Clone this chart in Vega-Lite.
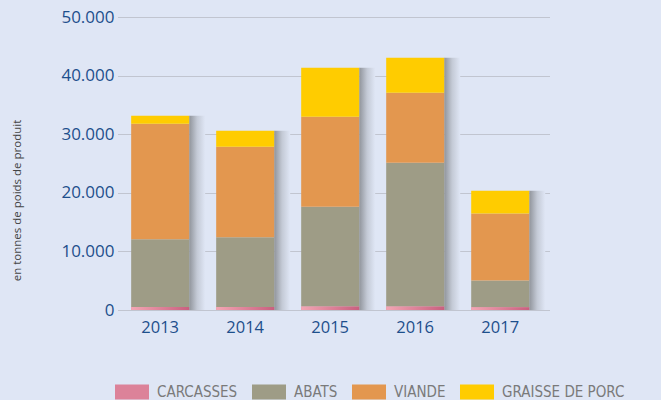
{
  "$schema": "https://vega.github.io/schema/vega-lite/v6.json",
  "width": 431,
  "height": 293,
  "autosize": {"type": "none"},
  "padding": {"left": 118, "top": 17, "right": 112, "bottom": 90},
  "background": "#dfe6f5",
  "data": {
    "values": [
      {"year": "2013", "category": "CARCASSES", "value": 500},
      {"year": "2013", "category": "ABATS", "value": 11570},
      {"year": "2013", "category": "VIANDE", "value": 19720},
      {"year": "2013", "category": "GRAISSE DE PORC", "value": 1360},
      {"year": "2014", "category": "CARCASSES", "value": 500},
      {"year": "2014", "category": "ABATS", "value": 11900},
      {"year": "2014", "category": "VIANDE", "value": 15460},
      {"year": "2014", "category": "GRAISSE DE PORC", "value": 2730},
      {"year": "2015", "category": "CARCASSES", "value": 600},
      {"year": "2015", "category": "ABATS", "value": 17040},
      {"year": "2015", "category": "VIANDE", "value": 15340},
      {"year": "2015", "category": "GRAISSE DE PORC", "value": 8360},
      {"year": "2016", "category": "CARCASSES", "value": 600},
      {"year": "2016", "category": "ABATS", "value": 24540},
      {"year": "2016", "category": "VIANDE", "value": 11940},
      {"year": "2016", "category": "GRAISSE DE PORC", "value": 5960},
      {"year": "2017", "category": "CARCASSES", "value": 450},
      {"year": "2017", "category": "ABATS", "value": 4580},
      {"year": "2017", "category": "VIANDE", "value": 11420},
      {"year": "2017", "category": "GRAISSE DE PORC", "value": 3920}
    ]
  },
  "encoding": {
    "x": {
      "field": "year",
      "type": "nominal",
      "scale": {"paddingInner": 0.32, "paddingOuter": 0.195, "align": 0.4},
      "axis": {
        "title": null,
        "domain": false,
        "ticks": false,
        "labelAngle": 0,
        "labelFont": "Open Sans",
        "labelFontSize": 16.5,
        "labelColor": "#1d4f8c",
        "labelPadding": 9,
        "labelDx": 5
      }
    }
  },
  "resolve": {"axis": {"y": "independent"}},
  "layer": [
    {
      "mark": {
        "type": "bar",
        "width": 16,
        "xOffset": 37,
        "fill": {
          "gradient": "linear",
          "x1": 0, "y1": 0, "x2": 1, "y2": 0,
          "stops": [
            {"offset": 0, "color": "#90949b"},
            {"offset": 0.5, "color": "#c4cad6"},
            {"offset": 1, "color": "#dfe6f5"}
          ]
        }
      },
      "encoding": {
        "y": {"aggregate": "sum", "field": "value", "type": "quantitative", "scale": {"domain": [0, 50000]}, "axis": null}
      }
    },
    {
      "transform": [
        {"calculate": "indexof(['CARCASSES','ABATS','VIANDE','GRAISSE DE PORC'], datum.category)", "as": "ord"}
      ],
      "mark": {"type": "bar", "width": 58},
      "encoding": {
        "y": {
          "field": "value",
          "type": "quantitative",
          "stack": "zero",
          "scale": {"domain": [0, 50000]},
          "axis": {
            "title": "en tonnes de poids de produit",
            "titleFont": "Open Sans",
            "titleFontSize": 11.5,
            "titleFontWeight": "normal",
            "titleColor": "#444444",
            "titleX": -101,
            "titleY": 183,
            "titleAlign": "center",
            "titleBaseline": "middle",
            "titleAngle": -90,
            "domain": false,
            "ticks": false,
            "values": [0, 10000, 20000, 30000, 40000, 50000],
            "labelOverlap": false,
            "labelFont": "Open Sans",
            "labelFontSize": 17,
            "labelColor": "#1d4f8c",
            "labelPadding": 4,
            "labelExpr": "replace(format(datum.value, ','), ',', '.')",
            "grid": true,
            "gridColor": "#a2a5ab",
            "gridDash": [1, 1],
            "gridWidth": 1
          }
        },
        "order": {"field": "ord", "type": "quantitative", "sort": "ascending"},
        "color": {
          "field": "category",
          "type": "nominal",
          "sort": ["CARCASSES", "ABATS", "VIANDE", "GRAISSE DE PORC"],
          "scale": {
            "domain": ["CARCASSES", "ABATS", "VIANDE", "GRAISSE DE PORC"],
            "range": ["#dc8299", "#9e9c86", "#e3974f", "#ffcc00"]
          },
          "legend": {
            "title": null,
            "orient": "none",
            "legendX": -3,
            "legendY": 358,
            "direction": "horizontal",
            "padding": 0,
            "symbolType": "M-1,-0.44H1V0.44H-1Z",
            "symbolSize": 1156,
            "symbolStrokeWidth": 0,
            "labelFont": "DejaVu Sans Condensed",
            "labelFontSize": 15,
            "labelColor": "#7a7a7a",
            "labelOffset": 8,
            "columnPadding": 14,
            "labelLimit": 300
          }
        }
      }
    },
    {
      "transform": [{"filter": "datum.category === 'CARCASSES'"}],
      "mark": {
        "type": "bar",
        "width": 58,
        "fill": {
          "gradient": "linear",
          "x1": 0, "y1": 0, "x2": 1, "y2": 0,
          "stops": [
            {"offset": 0, "color": "#f3a7b4"},
            {"offset": 1, "color": "#c95f7f"}
          ]
        }
      },
      "encoding": {
        "y": {"field": "value", "type": "quantitative", "scale": {"domain": [0, 50000]}, "axis": null}
      }
    }
  ],
  "config": {
    "view": {"stroke": null}
  }
}
